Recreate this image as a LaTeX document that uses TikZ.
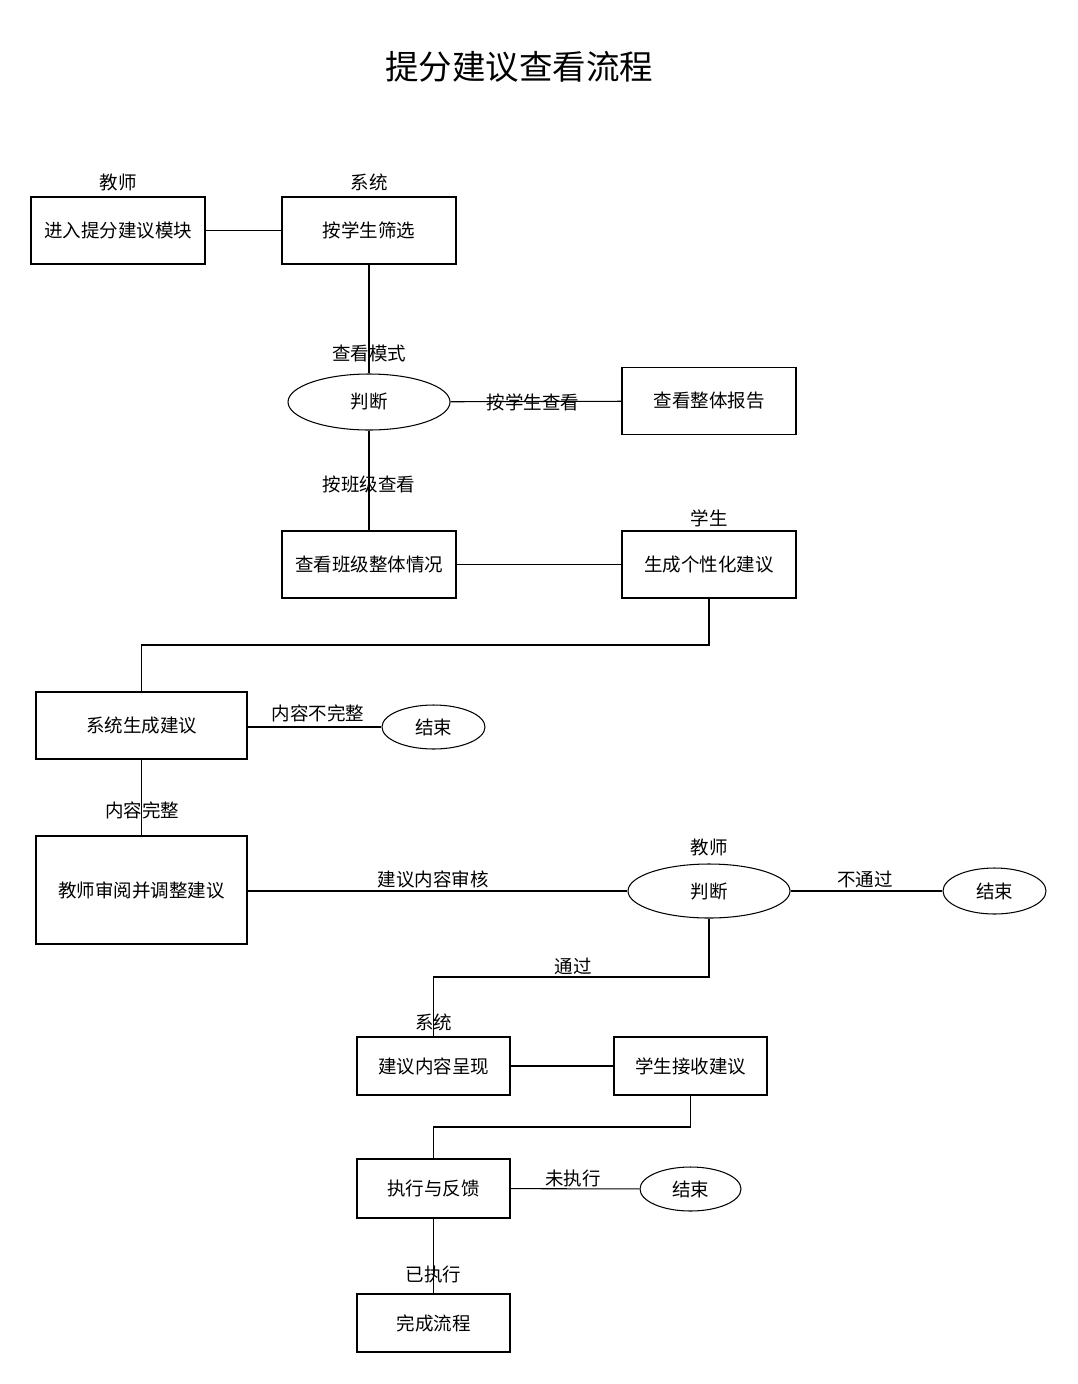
\documentclass[tikz,border=0pt]{standalone}
\usepackage{fontspec}
\setmainfont{Noto Sans CJK SC}
\usetikzlibrary{shapes.geometric}
\begin{document}
\begin{tikzpicture}[x=1pt,y=-1pt,
  every node/.style={font=\fontsize{18.5}{20}\selectfont, inner sep=0pt},
  box/.style={draw, line width=1.05pt, minimum width=#1, anchor=center},
  oval/.style={draw, ellipse, line width=1.05pt},
  conn/.style={line width=1.05pt},
  lbl/.style={}]
\fill[white] (0,0) rectangle (1077,1384);
\useasboundingbox (0,0) rectangle (1077,1384);
\node (title) at (519,67) {\fontsize{33.5}{36}\selectfont 提分建议查看流程};
% row 1
\node[lbl] (r1) at (118,182) {教师};
\node[box=174pt, minimum height=67pt] (b1) at (118,230.5) {进入提分建议模块};
\node[lbl] (r2) at (369,182) {系统};
\node[box=174pt, minimum height=67pt] (b2) at (369,230.5) {按学生筛选};
\draw[conn] (b1) -- (b2);
% judge 1
\node[oval, minimum width=162pt, minimum height=56pt] (j1) at (369,402) {判断};
\draw[conn] (b2) -- (j1);
\node[lbl] (l0) at (369,353) {查看模式};
\node[box=174pt, minimum height=67pt] (b3) at (709,401) {查看整体报告};
\draw[conn] (j1) -- (b3);
\node[lbl] (l7) at (533,402) {按学生查看};
\node[box=174pt, minimum height=67pt] (b4) at (369,564.5) {查看班级整体情况};
\draw[conn] (j1) -- (b4);
\node[lbl] (l8) at (369,484) {按班级查看};
\node[lbl] (r3) at (709,518) {学生};
\node[box=174pt, minimum height=67pt] (b5) at (709,564.5) {生成个性化建议};
\draw[conn] (b4) -- (b5);
% system generate
\node[box=211pt, minimum height=67pt] (b6) at (141.5,725.5) {系统生成建议};
\coordinate (c1) at (709,645);
\coordinate (c2) at (141.5,645);
\draw[conn] (b5.south) -- (c1) -- (c2) -- (b6.north);
\node[oval, minimum width=103pt, minimum height=44pt] (e1) at (433.5,727) {结束};
\draw[conn] (b6.east |- e1) -- (e1.west);
\node[lbl] (l1) at (318,713) {内容不完整};
\node[box=211pt, minimum height=108pt] (b7) at (141.5,890) {教师审阅并调整建议};
\draw[conn] (b6) -- (b7);
\node[lbl] (l9) at (142,810) {内容完整};
% judge 2
\node[lbl] (r4) at (709,847) {教师};
\node[oval, minimum width=162pt, minimum height=54pt] (j2) at (709,891) {判断};
\draw[conn] (b7.east |- j2) -- (j2.west);
\node[lbl] (l2) at (433,879) {建议内容审核};
\node[oval, minimum width=103pt, minimum height=46pt] (e2) at (994.5,891) {结束};
\draw[conn] (j2) -- (e2);
\node[lbl] (l3) at (865,879) {不通过};
% pass
\node[box=153pt, minimum height=58pt] (b8) at (433.5,1066) {建议内容呈现};
\coordinate (c3) at (709,977);
\coordinate (c4) at (433.5,977);
\draw[conn] (j2.south) -- (c3) -- (c4) -- (b8.north);
\node[lbl] (l4) at (573,966) {通过};
\node[lbl] (r5) at (433.5,1022) {系统};
\node[box=153pt, minimum height=58pt] (b9) at (690.5,1066) {学生接收建议};
\draw[conn] (b8) -- (b9);
\node[box=153pt, minimum height=59pt] (b10) at (433.5,1188.5) {执行与反馈};
\coordinate (c5) at (690.5,1127);
\coordinate (c6) at (433.5,1127);
\draw[conn] (b9.south) -- (c5) -- (c6) -- (b10.north);
\node[oval, minimum width=101pt, minimum height=44pt] (e3) at (690.5,1189) {结束};
\draw[conn] (b10) -- (e3);
\node[lbl] (l5) at (573,1178) {未执行};
\node[box=153pt, minimum height=58pt] (b11) at (433.5,1323) {完成流程};
\draw[conn] (b10) -- (b11);
\node[lbl] (l6) at (433.5,1274) {已执行};
\end{tikzpicture}
\end{document}
